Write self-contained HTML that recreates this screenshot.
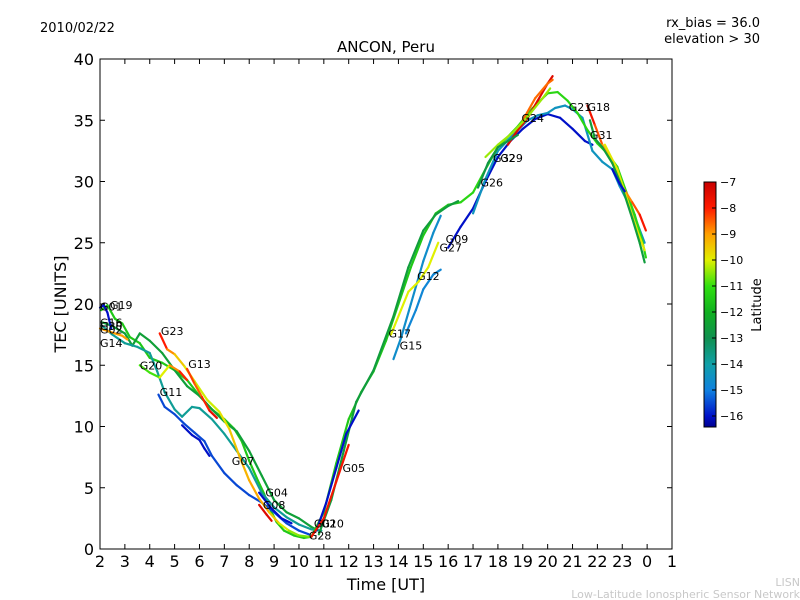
<!DOCTYPE html>
<html><head><meta charset="utf-8"><style>
body{margin:0;background:#fff;}
svg{display:block;font-family:"DejaVu Sans","Liberation Sans",sans-serif;}
</style></head><body>
<svg id="chart" width="800" height="600" viewBox="0 0 800 600">
<defs>
<linearGradient id="cbg" x1="0" y1="0" x2="0" y2="1">
<stop offset="0" stop-color="#c80000"/>
<stop offset="0.106" stop-color="#ff1a00"/>
<stop offset="0.213" stop-color="#ffa000"/>
<stop offset="0.319" stop-color="#e0f000"/>
<stop offset="0.426" stop-color="#30e010"/>
<stop offset="0.532" stop-color="#10b020"/>
<stop offset="0.638" stop-color="#109050"/>
<stop offset="0.745" stop-color="#10a0a8"/>
<stop offset="0.851" stop-color="#1080e0"/>
<stop offset="0.957" stop-color="#0010c8"/>
<stop offset="1" stop-color="#000090"/>
</linearGradient>
</defs>
<g id="plot"></g>
<rect x="100" y="59" width="572" height="490" fill="none" stroke="#000" stroke-width="1"/>
<g id="axes"></g>
<text x="40" y="32" font-size="13">2010/02/22</text>
<text x="386" y="52" font-size="15" text-anchor="middle">ANCON, Peru</text>
<text x="760" y="27" font-size="13" text-anchor="end">rx_bias = 36.0</text>
<text x="760" y="43" font-size="13" text-anchor="end">elevation &gt; 30</text>
<text x="386" y="590" font-size="16" text-anchor="middle">Time [UT]</text>
<text transform="translate(66,304) rotate(-90)" font-size="16" text-anchor="middle">TEC [UNITS]</text>
<rect x="704" y="182" width="12" height="245" fill="url(#cbg)" stroke="#000" stroke-width="1"/>
<g id="cbticks"></g>
<text transform="translate(761,305) rotate(-90)" font-size="13" text-anchor="middle">Latitude</text>
<text x="800" y="586" font-size="11" fill="#c8c8c8" text-anchor="end">LISN</text>
<text x="800" y="598" font-size="11" fill="#c8c8c8" text-anchor="end">Low-Latitude Ionospheric Sensor Network</text>
</svg>
<script>
// ---- data ----
const xTickLabels = ["2","3","4","5","6","7","8","9","10","11","12","13","14","15","16","17","18","19","20","21","22","23","0","1"];
const yTickValues = [0,5,10,15,20,25,30,35,40];
const cbTickValues = [-7,-8,-9,-10,-11,-12,-13,-14,-15,-16];
// each track: hours, tec, latitude
const t1h=[2.05,2.3,2.6,2.9,3.2,3.6,4,4.5,5,5.5,6,6.5,7,7.4,7.7,8,8.3,8.6,8.8,9.1,9.4,9.8,10.2,10.5];
const t1v=[19.5,19.9,18.8,18.4,17.3,16.8,15.6,15.2,14.6,13.8,12.5,11.4,10.6,9.8,8.8,7.2,5.8,4.5,3.4,2.2,1.5,1.1,0.9,1.0];
const t1l=[-11.5];
const t2h=[2.1,2.5,3,3.3,3.6,4,4.5,5,5.5,6,6.5,7,7.5,8,8.5,9,9.5,10,10.5,10.8];
const t2v=[18.5,18.2,17.6,16.6,17.6,17,16,14.6,13.3,12.5,11.4,10.4,9.6,8,6,4,3,2.5,1.8,1.5];
const t2l=[-12.5];
const t3h=[2.1,2.5,3,3.5,4,4.3,4.6,5,5.3,5.7,6,6.5,7,7.5,8,8.5,9,9.5,10,10.5,10.9];
const t3v=[18.2,17.5,16.8,16.5,16,14.5,12.8,11.4,10.8,11.6,11.5,10.6,9.4,8,6.6,4.6,3.4,2.6,2,1.6,1.5];
const t3l=[-13.8];
const t4h=[4.35,4.6,5,5.4,5.8,6.2,6.5,7,7.5,8,8.5,9,9.5,10,10.4];
const t4v=[12.6,11.6,11,10.2,9.5,8.8,7.6,6.2,5.2,4.4,3.8,3,2.1,1.5,1.2];
const t4l=[-15.5];
const t5h=[5.3,5.7,6,6.2,6.4];
const t5v=[10.1,9.3,8.9,8.2,7.6];
const t5l=[-16];
const t6h=[8.4,8.9,9.3,9.7];
const t6v=[4.6,3.3,2.5,2.1];
const t6l=[-16];
const t7h=[4.4,4.7,5,5.4,5.8,6.3,6.8,7.2,7.6,8,8.4,8.8,9.2,9.6,10,10.4];
const t7v=[17.6,16.3,15.9,14.9,13.7,12.2,11.2,9.8,7.6,5.6,4.1,3.0,2.1,1.5,1.1,1.0];
const t7l=[-7.5,-8.5,-9.2,-9.8,-10,-10.2,-10,-9.6,-9.3,-9.2,-9,-9.3,-9.8,-10.3,-10.6,-10.6];
const t8h=[5.5,5.8,6.1,6.4,6.7];
const t8v=[14.7,13.5,12.4,11.3,10.7];
const t8l=[-8,-8.5,-8.5,-7.6,-7.4];
const t9h=[3.6,4,4.4,4.8,5.2,5.5];
const t9v=[15,14.4,14,15,14.5,13.8];
const t9l=[-10.8,-11,-10.8,-9.2,-8.5,-7.6];
const t10h=[8.4,8.7,8.9];
const t10v=[3.6,2.8,2.3];
const t10l=[-7.4];
const t11h=[2,2.3,2.6,2.9,3.1];
const t11v=[18,17.8,17.6,17.4,17.1];
const t11l=[-9];
const t12h=[2,2.15,2.3,2.45];
const t12v=[19.7,19.9,19.3,18];
const t12l=[-16];
const t13h=[10.5,11,11.5,12,12.5,13,13.5,14,14.5,15,15.5,16,16.5];
const t13v=[1,3,7,10.6,12.8,14.5,17,20,23,25.6,27.4,28.1,28.3];
const t13l=[-11.5];
const t14h=[10.8,11.3,11.8,12.3,13,13.8,14.4,15,15.5,16,16.4];
const t14v=[1.2,4,8,12,14.6,19,23,26,27.3,28,28.4];
const t14l=[-12.6];
const t15h=[13.8,14.1,14.5,15,15.4,15.7];
const t15v=[15.5,17.2,20,23.5,25.8,27.2];
const t15l=[-14.6];
const t16h=[10.7,11.1,11.5,11.9,12.4];
const t16v=[1.5,3.8,6.6,9.4,11.3];
const t16l=[-16];
const t17h=[13.7,14.1,14.4,14.8,15.2,15.6];
const t17v=[17.5,19.5,21,21.8,23,25];
const t17l=[-10];
const t18h=[10.5,11,11.5,12];
const t18v=[1,2.5,5.5,8.5];
const t18l=[-7.8];
const t19h=[14.3,14.7,15,15.4,15.7];
const t19v=[17.6,19.5,21.2,22.4,22.8];
const t19l=[-14.8];
const t20h=[16,16.5,17,17.5,18,18.5,19,19.5,20,20.5,21,21.5,21.8];
const t20v=[24.6,26.3,27.8,30,32,33.3,34.3,35.1,35.5,35.2,34.3,33.3,33];
const t20l=[-16];
const t21h=[17,17.5,18,18.6,19.2,19.6,20,20.3,20.7,21,21.4,21.8,22.2,22.6,22.9,23.3,23.6,23.9];
const t21v=[27.4,30.2,32.5,33.8,35,35.4,35.6,36,36.2,35.9,35.2,32.5,31.6,31,29.6,28,26.6,25];
const t21l=[-14.4];
const t22h=[16.5,17,17.5,18,18.8,19.4,20,20.4,20.8,21.2,21.6,22,22.4,22.8,23.1,23.5,23.8,23.95];
const t22v=[28.3,29.1,31,32.8,34.5,36,37.2,37.3,36.6,35.6,34.2,33.1,32.3,31.2,29.5,27.3,25.2,23.8];
const t22l=[-11.2];
const t23h=[18.4,18.8,19.2,19.6,20,20.2];
const t23v=[33,34.2,35.2,36.6,38,38.6];
const t23l=[-7.4];
const t24h=[19,19.5,20,20.2];
const t24v=[35,36.8,38,38.3];
const t24l=[-8.6];
const t25h=[17.5,18,18.6,19.2,19.8,20.1];
const t25v=[32,33,34,35.3,36.8,37.6];
const t25l=[-10.4];
const t26h=[21.6,21.9,22.2,22.6,23,23.4,23.7,23.95];
const t26v=[36.2,34.6,33,31.5,29.6,28.3,27.3,26];
const t26l=[-7.5,-8,-8.8,-9.2,-9,-8.6,-8.2,-7.6];
const t27h=[22.3,22.8,23.2,23.6,23.9];
const t27v=[33,31,28.5,26,24.4];
const t27l=[-9.9];
const t28h=[21.7,21.9,22.2,22.6,23,23.4,23.7,23.9];
const t28v=[35,33.5,32.8,31.5,29.5,27,25,23.4];
const t28l=[-12.6];
const t29h=[22.6,22.9,23.1];
const t29v=[31,29.8,29.2];
const t29l=[-16];
const t30h=[17.2,17.6,18,18.4,18.8];
const t30v=[29.5,31.5,32.8,33.3,33.8];
const t30l=[-12.8];
const tracks=[[t1h,t1v,t1l],[t2h,t2v,t2l],[t3h,t3v,t3l],[t4h,t4v,t4l],[t5h,t5v,t5l],[t6h,t6v,t6l],[t7h,t7v,t7l],[t8h,t8v,t8l],[t9h,t9v,t9l],[t10h,t10v,t10l],[t11h,t11v,t11l],[t12h,t12v,t12l],[t13h,t13v,t13l],[t14h,t14v,t14l],[t15h,t15v,t15l],[t16h,t16v,t16l],[t17h,t17v,t17l],[t18h,t18v,t18l],[t19h,t19v,t19l],[t20h,t20v,t20l],[t21h,t21v,t21l],[t22h,t22v,t22l],[t23h,t23v,t23l],[t24h,t24v,t24l],[t25h,t25v,t25l],[t26h,t26v,t26l],[t27h,t27v,t27l],[t28h,t28v,t28l],[t29h,t29v,t29l],[t30h,t30v,t30l]];
const labelNames=["G01","G19","G16","G30","G02","G14","G23","G20","G13","G11","G07","G04","G08","G02","G10","G28","G05","G17","G15","G12","G27","G09","G26","G32","G29","G24","G21","G18","G31"];
const labelHours=[2.0,2.4,2.0,2.0,2.0,2.0,4.45,3.6,5.55,4.4,7.3,8.65,8.55,10.6,10.9,10.4,11.75,13.6,14.05,14.75,15.65,15.9,17.3,17.8,18.1,18.95,20.85,21.6,21.7];
const labelTec=[19.8,19.9,18.5,18.2,17.9,16.8,17.8,15.0,15.1,12.8,7.2,4.6,3.6,2.1,2.1,1.1,6.6,17.6,16.6,22.3,24.6,25.3,29.9,31.9,31.9,35.2,36.1,36.1,33.8];

// ---- scales ----
const X0=100,X1=672,Y0=549,Y1=59;
function xs(h){return X0+(h-2)*(X1-X0)/23;}
function ys(v){return Y0-v*(Y0-Y1)/40;}
function cbY(l){return 182+(-7-l)*26;}
const stops=[[-7,[200,0,0]],[-8,[255,26,0]],[-9,[255,160,0]],[-10,[224,240,0]],[-11,[48,224,16]],[-12,[16,176,32]],[-13,[16,144,80]],[-14,[16,160,168]],[-15,[16,128,224]],[-16,[0,16,200]],[-16.4,[0,0,144]]];
function col(l){
  if(l>=-7)return "rgb(200,0,0)";
  for(let i=0;i<stops.length-1;i++){const a=stops[i],b=stops[i+1];
    if(l<=a[0]&&l>=b[0]){const t=(a[0]-l)/(a[0]-b[0]);
      const c=a[1].map((v,k)=>Math.round(v+(b[1][k]-v)*t));return "rgb("+c.join(",")+")";}}
  return "rgb(0,0,144)";
}
const NS="http://www.w3.org/2000/svg";
function mk(tag,attrs,parent){const e=document.createElementNS(NS,tag);for(const k in attrs)e.setAttribute(k,attrs[k]);parent.appendChild(e);return e;}
const plot=document.getElementById('plot');
const axes=document.getElementById('axes');
tracks.forEach((tr,ti)=>{
  const [hh,vv,ll]=tr;
  const g=mk('g',{},plot);
  
  
  for(let i=0;i<hh.length-1;i++){
    const lat=ll.length>1?(ll[i]+ll[i+1])/2:ll[0];
    const s=mk('line',{x1:xs(hh[i]),y1:ys(vv[i]),x2:xs(hh[i+1]),y2:ys(vv[i+1]),stroke:col(lat),'stroke-width':2.2,'stroke-linecap':'round'},g);
    
    
  }
});
labelNames.forEach((n,i)=>{
  const t=mk('text',{x:xs(labelHours[i]),y:ys(labelTec[i])+4,'font-size':11},plot);
  t.textContent=n;
  
  
});
xTickLabels.forEach((lab,i)=>{
  const x=xs(2+i);
  const t1=mk('line',{x1:x,y1:Y0,x2:x,y2:Y0-5,stroke:'#000'},axes);
  
  
  const t2=mk('line',{x1:x,y1:Y1,x2:x,y2:Y1+5,stroke:'#000'},axes);
  
  
  const tx=mk('text',{x:x,y:Y0+18,'font-size':16,'text-anchor':'middle'},axes);
  tx.textContent=lab;
  
  
});
yTickValues.forEach(v=>{
  const y=ys(v);
  const t1=mk('line',{x1:X0,y1:y,x2:X0+5,y2:y,stroke:'#000'},axes);
  
  
  const t2=mk('line',{x1:X1,y1:y,x2:X1-5,y2:y,stroke:'#000'},axes);
  
  
  const tx=mk('text',{x:X0-6,y:y+6,'font-size':16,'text-anchor':'end'},axes);
  tx.textContent=v;
  
  
});
const cbt=document.getElementById('cbticks');
cbTickValues.forEach(v=>{
  const y=cbY(v);
  const l=mk('line',{x1:712,y1:y,x2:716,y2:y,stroke:'#000'},cbt);
  
  
  const tx=mk('text',{x:720,y:y+4,'font-size':11},cbt);
  tx.textContent='\u2212'+Math.abs(v);
  
  
});
</script>
</body></html>
